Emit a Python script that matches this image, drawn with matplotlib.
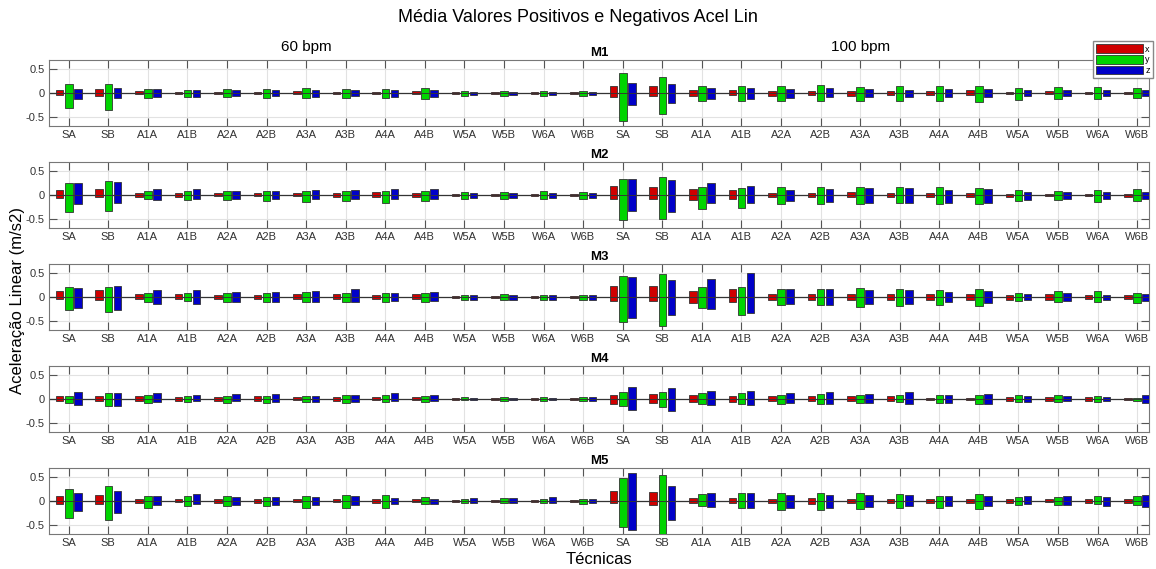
import numpy as np
import matplotlib
matplotlib.use("Agg")
from matplotlib import pyplot as plt
from matplotlib.patches import Patch
from matplotlib.transforms import blended_transform_factory

plt.rcParams['font.family'] = ['Liberation Sans', 'DejaVu Sans']

# categories (14 techniques at 60 bpm, then the same 14 at 100 bpm)
tecnicas = ['SA', 'SB', 'A1A', 'A1B', 'A2A', 'A2B', 'A3A', 'A3B',
            'A4A', 'A4B', 'W5A', 'W5B', 'W6A', 'W6B']
labels = tecnicas + tecnicas
paineis = ['M1', 'M2', 'M3', 'M4', 'M5']

# mean positive / negative values per axis
m1_x_pos = [0.07, 0.08, 0.035, 0.03, 0.03, 0.03, 0.035, 0.03, 0.03, 0.035, 0.02, 0.02, 0.02, 0.02,
            0.15, 0.14, 0.07, 0.06, 0.05, 0.05, 0.04, 0.04, 0.04, 0.06, 0.03, 0.04, 0.03, 0.02]
m1_x_neg = [-0.05, -0.06, -0.03, -0.03, -0.03, -0.03, -0.03, -0.03, -0.03, -0.03, -0.015, -0.02, -0.02, -0.02,
            -0.08, -0.07, -0.06, -0.05, -0.06, -0.05, -0.06, -0.05, -0.05, -0.04, -0.03, -0.03, -0.03, -0.03]
m1_y_pos = [0.2, 0.19, 0.08, 0.07, 0.09, 0.09, 0.1, 0.08, 0.09, 0.11, 0.05, 0.05, 0.05, 0.05,
            0.43, 0.34, 0.14, 0.15, 0.14, 0.16, 0.12, 0.14, 0.14, 0.14, 0.11, 0.12, 0.12, 0.1]
m1_y_neg = [-0.32, -0.35, -0.1, -0.09, -0.09, -0.1, -0.11, -0.11, -0.1, -0.13, -0.06, -0.06, -0.06, -0.07,
            -0.59, -0.44, -0.17, -0.16, -0.16, -0.16, -0.16, -0.16, -0.18, -0.19, -0.15, -0.12, -0.13, -0.11]
m1_z_pos = [0.09, 0.11, 0.09, 0.07, 0.06, 0.06, 0.07, 0.06, 0.06, 0.07, 0.03, 0.03, 0.02, 0.02,
            0.22, 0.19, 0.11, 0.11, 0.09, 0.1, 0.08, 0.07, 0.09, 0.09, 0.06, 0.06, 0.06, 0.07]
m1_z_neg = [-0.12, -0.11, -0.09, -0.09, -0.07, -0.07, -0.08, -0.07, -0.08, -0.08, -0.04, -0.04, -0.04, -0.04,
            -0.26, -0.21, -0.12, -0.13, -0.1, -0.09, -0.09, -0.08, -0.09, -0.08, -0.07, -0.07, -0.06, -0.07]

m2_x_pos = [0.11, 0.12, 0.04, 0.04, 0.04, 0.04, 0.04, 0.04, 0.07, 0.05, 0.02, 0.02, 0.02, 0.02,
            0.19, 0.17, 0.12, 0.11, 0.04, 0.05, 0.07, 0.05, 0.04, 0.05, 0.03, 0.03, 0.03, 0.03]
m2_x_neg = [-0.06, -0.05, -0.04, -0.04, -0.03, -0.03, -0.03, -0.04, -0.04, -0.04, -0.02, -0.02, -0.02, -0.02,
            -0.09, -0.09, -0.11, -0.08, -0.05, -0.05, -0.05, -0.05, -0.04, -0.05, -0.04, -0.03, -0.03, -0.04]
m2_y_pos = [0.25, 0.29, 0.09, 0.09, 0.09, 0.08, 0.09, 0.09, 0.09, 0.08, 0.07, 0.07, 0.08, 0.07,
            0.34, 0.38, 0.16, 0.15, 0.16, 0.17, 0.17, 0.16, 0.17, 0.14, 0.11, 0.09, 0.1, 0.12]
m2_y_neg = [-0.36, -0.34, -0.09, -0.11, -0.1, -0.12, -0.14, -0.13, -0.17, -0.13, -0.08, -0.08, -0.09, -0.08,
            -0.52, -0.5, -0.29, -0.28, -0.2, -0.19, -0.19, -0.18, -0.2, -0.2, -0.13, -0.11, -0.14, -0.12]
m2_z_pos = [0.25, 0.27, 0.13, 0.13, 0.09, 0.09, 0.1, 0.11, 0.12, 0.12, 0.05, 0.05, 0.05, 0.05,
            0.33, 0.31, 0.25, 0.2, 0.1, 0.13, 0.14, 0.14, 0.11, 0.13, 0.07, 0.07, 0.07, 0.07]
m2_z_neg = [-0.2, -0.18, -0.1, -0.09, -0.09, -0.09, -0.09, -0.09, -0.09, -0.09, -0.06, -0.06, -0.06, -0.06,
            -0.33, -0.37, -0.18, -0.17, -0.12, -0.14, -0.16, -0.16, -0.16, -0.16, -0.11, -0.09, -0.09, -0.09]

m3_x_pos = [0.12, 0.14, 0.06, 0.06, 0.05, 0.05, 0.06, 0.07, 0.05, 0.06, 0.03, 0.03, 0.02, 0.02,
            0.24, 0.24, 0.12, 0.17, 0.06, 0.06, 0.07, 0.07, 0.06, 0.06, 0.05, 0.06, 0.05, 0.05]
m3_x_neg = [-0.04, -0.06, -0.05, -0.04, -0.04, -0.04, -0.05, -0.05, -0.04, -0.04, -0.02, -0.03, -0.02, -0.02,
            -0.09, -0.09, -0.12, -0.1, -0.06, -0.06, -0.07, -0.06, -0.06, -0.06, -0.06, -0.06, -0.05, -0.05]
m3_y_pos = [0.21, 0.22, 0.09, 0.08, 0.09, 0.08, 0.1, 0.09, 0.09, 0.09, 0.05, 0.06, 0.05, 0.05,
            0.45, 0.49, 0.22, 0.22, 0.16, 0.17, 0.19, 0.17, 0.14, 0.17, 0.08, 0.12, 0.12, 0.09]
m3_y_neg = [-0.27, -0.32, -0.11, -0.09, -0.11, -0.11, -0.11, -0.11, -0.11, -0.11, -0.07, -0.06, -0.06, -0.06,
            -0.53, -0.62, -0.23, -0.38, -0.17, -0.16, -0.21, -0.19, -0.18, -0.19, -0.09, -0.11, -0.11, -0.12]
m3_z_pos = [0.2, 0.23, 0.14, 0.14, 0.1, 0.11, 0.12, 0.17, 0.09, 0.11, 0.04, 0.05, 0.04, 0.04,
            0.42, 0.37, 0.38, 0.51, 0.18, 0.18, 0.14, 0.15, 0.11, 0.12, 0.06, 0.09, 0.05, 0.06]
m3_z_neg = [-0.24, -0.28, -0.14, -0.14, -0.11, -0.1, -0.1, -0.11, -0.09, -0.08, -0.06, -0.06, -0.06, -0.06,
            -0.45, -0.39, -0.26, -0.33, -0.15, -0.17, -0.15, -0.14, -0.1, -0.12, -0.07, -0.09, -0.06, -0.08]

m4_x_pos = [0.06, 0.06, 0.06, 0.05, 0.05, 0.06, 0.04, 0.04, 0.04, 0.04, 0.02, 0.02, 0.02, 0.02,
            0.09, 0.1, 0.08, 0.07, 0.07, 0.06, 0.07, 0.06, 0.03, 0.03, 0.04, 0.04, 0.04, 0.02]
m4_x_neg = [-0.05, -0.05, -0.05, -0.04, -0.04, -0.04, -0.03, -0.04, -0.02, -0.03, -0.02, -0.02, -0.02, -0.02,
            -0.1, -0.08, -0.07, -0.07, -0.05, -0.05, -0.04, -0.04, -0.02, -0.02, -0.04, -0.04, -0.04, -0.02]
m4_y_pos = [0.07, 0.13, 0.09, 0.07, 0.06, 0.07, 0.07, 0.08, 0.08, 0.06, 0.04, 0.04, 0.04, 0.04,
            0.15, 0.15, 0.12, 0.12, 0.08, 0.1, 0.08, 0.08, 0.08, 0.08, 0.08, 0.08, 0.07, 0.03]
m4_y_neg = [-0.09, -0.14, -0.09, -0.07, -0.09, -0.08, -0.07, -0.08, -0.07, -0.06, -0.03, -0.05, -0.04, -0.04,
            -0.15, -0.17, -0.1, -0.1, -0.1, -0.1, -0.08, -0.07, -0.09, -0.1, -0.06, -0.06, -0.07, -0.04]
m4_z_pos = [0.15, 0.13, 0.13, 0.08, 0.11, 0.1, 0.07, 0.08, 0.12, 0.08, 0.03, 0.02, 0.03, 0.04,
            0.25, 0.24, 0.17, 0.16, 0.13, 0.15, 0.11, 0.14, 0.09, 0.1, 0.06, 0.06, 0.05, 0.09]
m4_z_neg = [-0.13, -0.15, -0.07, -0.05, -0.05, -0.06, -0.06, -0.07, -0.05, -0.05, -0.03, -0.03, -0.02, -0.04,
            -0.23, -0.26, -0.12, -0.13, -0.09, -0.1, -0.09, -0.1, -0.09, -0.1, -0.07, -0.05, -0.05, -0.09]

m5_x_pos = [0.11, 0.12, 0.05, 0.05, 0.04, 0.04, 0.04, 0.05, 0.04, 0.04, 0.02, 0.02, 0.02, 0.02,
            0.22, 0.19, 0.06, 0.06, 0.05, 0.06, 0.04, 0.05, 0.04, 0.05, 0.04, 0.05, 0.05, 0.04]
m5_x_neg = [-0.06, -0.06, -0.04, -0.03, -0.04, -0.04, -0.02, -0.02, -0.05, -0.03, -0.02, -0.02, -0.03, -0.02,
            -0.05, -0.08, -0.04, -0.04, -0.04, -0.06, -0.04, -0.04, -0.04, -0.05, -0.04, -0.03, -0.04, -0.04]
m5_y_pos = [0.25, 0.31, 0.11, 0.11, 0.1, 0.09, 0.11, 0.12, 0.13, 0.08, 0.05, 0.06, 0.05, 0.05,
            0.49, 0.55, 0.14, 0.17, 0.17, 0.18, 0.16, 0.15, 0.11, 0.14, 0.08, 0.09, 0.1, 0.1]
m5_y_neg = [-0.36, -0.41, -0.14, -0.11, -0.11, -0.11, -0.15, -0.14, -0.14, -0.07, -0.05, -0.05, -0.05, -0.06,
            -0.56, -0.72, -0.11, -0.15, -0.19, -0.2, -0.16, -0.15, -0.15, -0.17, -0.09, -0.08, -0.07, -0.09]
m5_z_pos = [0.17, 0.21, 0.11, 0.14, 0.08, 0.08, 0.09, 0.11, 0.06, 0.05, 0.06, 0.06, 0.08, 0.05,
            0.6, 0.31, 0.17, 0.17, 0.12, 0.12, 0.13, 0.12, 0.1, 0.11, 0.1, 0.11, 0.09, 0.13]
m5_z_neg = [-0.21, -0.26, -0.08, -0.06, -0.08, -0.08, -0.09, -0.08, -0.06, -0.07, -0.05, -0.05, -0.04, -0.05,
            -0.62, -0.41, -0.13, -0.14, -0.14, -0.14, -0.13, -0.11, -0.11, -0.11, -0.07, -0.09, -0.11, -0.12]

dados = {
    'M1': [(m1_x_pos, m1_x_neg), (m1_y_pos, m1_y_neg), (m1_z_pos, m1_z_neg)],
    'M2': [(m2_x_pos, m2_x_neg), (m2_y_pos, m2_y_neg), (m2_z_pos, m2_z_neg)],
    'M3': [(m3_x_pos, m3_x_neg), (m3_y_pos, m3_y_neg), (m3_z_pos, m3_z_neg)],
    'M4': [(m4_x_pos, m4_x_neg), (m4_y_pos, m4_y_neg), (m4_z_pos, m4_z_neg)],
    'M5': [(m5_x_pos, m5_x_neg), (m5_y_pos, m5_y_neg), (m5_z_pos, m5_z_neg)],
}

cores = ['#d00000', '#00d400', '#0000c8']
eixos = ['x', 'y', 'z']
offsets = [-0.23, 0.0, 0.23]
largura = 0.19

W, H = 1156, 569
fig = plt.figure(figsize=(W / 100, H / 100), dpi=100)

x = np.arange(1, len(labels) + 1)
left = 49 / W
width = (1149 - 49) / W
alt = 66 / H

for i, nome in enumerate(paineis):
    top_px = 60 + i * 102
    ax = fig.add_axes([left, 1 - (top_px + 66) / H, width, alt])
    for (pos, neg), cor, off in zip(dados[nome], cores, offsets):
        ax.bar(x + off, pos, width=largura, color=cor, edgecolor='#333333', linewidth=0.6, zorder=3)
        ax.bar(x + off, neg, width=largura, color=cor, edgecolor='#333333', linewidth=0.6, zorder=3)
    ax.axhline(0, color='#333333', linewidth=0.9, zorder=2)
    ax.set_xlim(0.5, 28.3)
    ax.set_ylim(-0.7, 0.7)
    ax.set_yticks([-0.5, 0, 0.5])
    ax.set_yticklabels(['-0.5', '0', '0.5'])
    ax.set_xticks(x)
    ax.set_xticklabels(labels)
    ax.tick_params(direction='in', top=True, right=True, length=6, width=0.8,
                   labelsize=8, colors='#333333', pad=3)
    ax.tick_params(color='#555555')
    ax.grid(True, color='#e2e2e2', linewidth=0.8, zorder=0)
    for s in ax.spines.values():
        s.set_color('#777777')
        s.set_linewidth(0.8)
    ax.set_title(nome, fontsize=9.5, fontweight='bold', pad=3)
    if i == 0:
        tr = blended_transform_factory(ax.transData, fig.transFigure)
        ax.text(7, 1 - 47 / H, '60 bpm', transform=tr, ha='center', va='center', fontsize=11)
        ax.text(21, 1 - 47 / H, '100 bpm', transform=tr, ha='center', va='center', fontsize=11)

fig.text(578 / W, 1 - 18 / H, 'Média Valores Positivos e Negativos Acel Lin',
         ha='center', va='center', fontsize=13)
fig.text(18 / W, 1 - 300 / H, 'Aceleração Linear (m/s2)', rotation=90,
         ha='center', va='center', fontsize=12)
fig.text(599 / W, 1 - 560 / H, 'Técnicas', ha='center', va='center', fontsize=12)

handles = [Patch(facecolor=c, edgecolor='#333333', linewidth=0.6) for c in cores]
fig.legend(handles, eixos, loc='upper right', bbox_to_anchor=(1153 / W, 1 - 41 / H),
           fontsize=6.5, handlelength=5.2, handleheight=1.1, labelspacing=0.15,
           handletextpad=0.3, borderpad=0.35, borderaxespad=0, fancybox=False,
           edgecolor='#888888', framealpha=1)

fig.savefig('out.png', dpi=100)
